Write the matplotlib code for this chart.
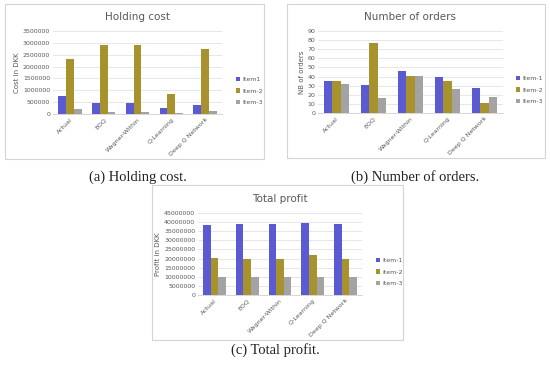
import matplotlib
matplotlib.use("Agg")
import matplotlib.pyplot as plt
import numpy as np
from matplotlib.patches import Rectangle

methods = ["Actual", "EOQ", "Wagner-Within", "Q-Learning", "Deep Q Network"]

holding_1 = [740000, 470000, 470000, 260000, 380000]
holding_2 = [2300000, 2920000, 2920000, 840000, 2730000]
holding_3 = [230000, 90000, 90000, 60000, 130000]

orders_1 = [35, 31, 46, 39, 27]
orders_2 = [35, 77, 41, 35, 11]
orders_3 = [32, 16, 41, 26, 18]

profit_1 = [38500000, 39000000, 39000000, 39300000, 39000000]
profit_2 = [20300000, 19500000, 19500000, 21800000, 19500000]
profit_3 = [9800000, 10000000, 10000000, 10000000, 9800000]

W, H = 550, 368
colors = ["#5a5ad2", "#a8922e", "#a3a3a3"]

fig = plt.figure(figsize=(W / 100, H / 100), dpi=100)


def px_rect(x0, y0, x1, y1):
    # pixel box (top-left origin) -> figure fraction
    return [x0 / W, 1 - y1 / H, (x1 - x0) / W, (y1 - y0) / H]


def panel(box, area, title, ylabel, series, labels, ymax, ystep, leg_xy):
    fig.patches.append(Rectangle((box[0], box[1]), box[2], box[3],
                                 transform=fig.transFigure, fill=False,
                                 edgecolor="#d4d4d4", linewidth=0.8))
    ax = fig.add_axes(area)
    x = np.arange(len(methods))
    w = 0.23
    for k, vals in enumerate(series):
        ax.bar(x + (k - 1) * w, vals, w, color=colors[k], label=labels[k])
    ax.set_xlim(-0.5, len(methods) - 0.5)
    ax.set_ylim(0, ymax)
    ticks = np.arange(0, ymax + ystep / 2, ystep)
    ax.set_yticks(ticks)
    ax.set_yticklabels([str(int(v)) for v in ticks])
    ax.set_xticks(x)
    ax.set_xticklabels(methods, rotation=45, ha="right", rotation_mode="anchor")
    ax.tick_params(axis="both", length=0, labelsize=4.5, colors="#595959", pad=2)
    ax.grid(axis="y", color="#e3e3e3", linewidth=0.6)
    ax.set_axisbelow(True)
    for s in ["top", "right", "left"]:
        ax.spines[s].set_visible(False)
    ax.spines["bottom"].set_color("#d0d0d0")
    ax.spines["bottom"].set_linewidth(0.6)
    ax.set_ylabel(ylabel, fontsize=5, color="#595959", labelpad=2)
    ax.set_title(title, fontsize=7.5, color="#595959", pad=8)
    ax.legend(loc="center left", bbox_to_anchor=leg_xy, bbox_transform=fig.transFigure,
              frameon=False, fontsize=4.5, handlelength=0.7, handleheight=0.7,
              labelcolor="#595959", labelspacing=1.0, handletextpad=0.4)
    return ax


panel(px_rect(5, 4, 264, 159), px_rect(53, 31, 222, 114), "Holding cost",
      "Cost in DKK", [holding_1, holding_2, holding_3],
      ["Item1", "Item-2", "Item-3"], 3500000, 500000, (230 / W, 1 - 91 / H))

panel(px_rect(287, 4, 545, 158), px_rect(318, 31, 503, 113), "Number of orders",
      "NB of orders", [orders_1, orders_2, orders_3],
      ["Item-1", "Item-2", "Item-3"], 90, 10, (510 / W, 1 - 90 / H))

panel(px_rect(152, 185, 403, 340), px_rect(198, 213, 362, 295), "Total profit",
      "Profit in DKK", [profit_1, profit_2, profit_3],
      ["item-1", "item-2", "item-3"], 45000000, 5000000, (370 / W, 1 - 272 / H))

cap = dict(fontsize=10.5, family="Liberation Serif", ha="center", va="center", color="#222222")
fig.text(138 / W, 1 - 177 / H, "(a) Holding cost.", **cap)
fig.text(415 / W, 1 - 177 / H, "(b) Number of orders.", **cap)
fig.text(275 / W, 1 - 350 / H, "(c) Total profit.", **cap)

fig.savefig("out.png", dpi=100)
